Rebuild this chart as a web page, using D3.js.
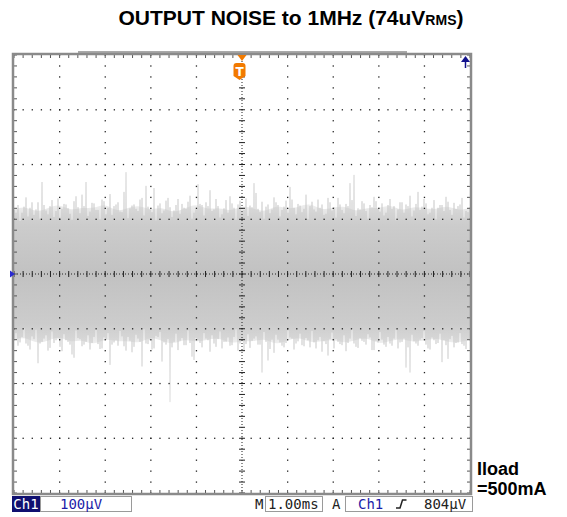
<!DOCTYPE html>
<html>
<head>
<meta charset="utf-8">
<script src="https://cdn.jsdelivr.net/npm/d3@7"></script>
<style>
  html, body { margin: 0; padding: 0; background: #fff; }
  svg { display: block; }
</style>
</head>
<body>
<svg id="chart" width="567" height="517"></svg>
<script>
// Scope screen: 10 x 8 divisions, 1.00ms/div and 100µV/div
const timeDivs = 10;
const voltDivs = 8;
const msPerDiv = 1.0;
const uvPerDiv = 100;

// Upper / lower peak of each screen column (µV)
const peakHi = [
  118, 126, 112, 140, 121, 108, 131, 168, 116, 124,
  104, 138, 119, 127, 110, 133, 122, 145, 168, 114,
  129, 117, 136, 109, 146, 124, 131, 113, 186, 120,
  127, 115, 139, 161, 118, 157, 125, 111, 134, 122,
  116, 137, 128, 119, 143, 112, 164, 126, 131, 153,
  118, 124, 109, 135, 142, 121, 127, 114, 138, 125,
  166, 119, 132, 123, 111, 140, 126, 117, 134, 159,
  121, 128, 113, 145, 124, 118, 136, 127, 110, 131,
  122, 139, 117, 128, 166, 181, 120, 133, 115, 126,
  141, 119, 129, 112, 137, 124, 118, 131, 127, 143,
  116, 150, 123, 129, 112, 135, 121, 126, 141, 117,
  130, 124, 139, 115, 122
];
const peakLo = [
  -122, -131, -115, -127, -138, -119, -163, -124, -112, -135,
  -126, -118, -141, -121, -129, -153, -117, -132, -124, -138,
  -115, -128, -136, -120, -166, -125, -131, -114, -140, -122,
  -133, -118, -169, -127, -121, -136, -115, -160, -129, -234,
  -124, -139, -117, -130, -126, -157, -121, -134, -118, -142,
  -127, -119, -136, -124, -131, -115, -140, -122, -128, -135,
  -118, -129, -180, -124, -137, -144, -120, -131, -126, -116,
  -138, -123, -130, -117, -134, -125, -121, -142, -128, -119,
  -136, -124, -130, -141, -118, -127, -135, -122, -129, -116,
  -139, -125, -120, -133, -127, -118, -136, -124, -171, -180,
  -123, -131, -117, -129, -138, -121, -126, -161, -130, -119,
  -134, -125, -128, -137, -122
];
// Peaks of the columns in between (µV)
const midHi = [
  112, 97, 123, 105, 131, 118, 101, 126, 109, 135,
  115, 103, 128, 120, 99, 142, 111, 124, 106, 130,
  117, 100, 133, 121, 108, 127, 114, 150, 102, 125,
  119, 136, 107, 123, 113, 98, 129, 116, 139, 104,
  126, 110, 121, 132, 101, 118, 128, 107, 124, 115,
  137, 103, 120, 112, 129, 99, 134, 117, 106, 122,
  148, 113, 101, 127, 118, 131, 105, 123, 112, 136,
  109, 125, 119, 100, 132, 114, 121, 108, 139, 116,
  103, 127, 111, 124, 135, 106, 118, 129, 101, 122,
  133, 114, 107, 126, 119, 98, 131, 112, 124, 105,
  128, 117, 137, 109, 121, 100, 126, 115, 132, 108,
  119, 127, 103, 113
];
const midLo = [
  -108, -125, -99, -131, -114, -102, -127, -118, -140, -105,
  -121, -133, -110, -124, -147, -103, -119, -129, -112, -126,
  -100, -137, -116, -108, -129, -121, -104, -132, -115, -143,
  -111, -124, -101, -128, -138, -113, -106, -125, -119, -134,
  -109, -122, -130, -103, -151, -117, -126, -108, -121, -112,
  -133, -105, -124, -116, -130, -101, -127, -139, -110, -122,
  -114, -129, -106, -158, -120, -111, -125, -134, -103, -118,
  -127, -109, -132, -121, -104, -136, -115, -123, -149, -107,
  -119, -128, -112, -126, -101, -133, -117, -124, -110, -139,
  -122, -106, -129, -115, -131, -102, -125, -118, -134, -111,
  -127, -120, -104, -136, -116, -128, -109, -121, -155, -113,
  -126, -108, -131, -119
];
// Envelope of the dense part of the trace (µV), every 0.25ms
const coreHi = [
  118, 124, 112, 121, 128, 115, 122, 119, 130, 113, 121, 126, 116, 123,
  111, 120, 129, 117, 122, 114, 125, 120, 112, 127, 118, 123, 130, 116,
  121, 125, 113, 122, 119, 128, 114, 124, 120, 117, 126, 115, 121
];
const coreLo = [
  -120, -115, -128, -122, -113, -126, -119, -131, -117, -124, -122, -127, -114, -123,
  -129, -118, -125, -120, -116, -128, -122, -124, -117, -130, -121, -115, -126, -123,
  -119, -127, -120, -116, -129, -122, -118, -125, -121, -117, -124, -126, -120
];

const titleMain = "OUTPUT NOISE to 1MHz (74uV";
const titleSub = "RMS";
const loadLabels = ["Iload", "=500mA"];
const chName = "Ch1";
const chScale = "100µV";
const timeBase = "1.00ms";
const trigSource = "Ch1";
const trigLevel = "804µV";

const svg = d3.select("#chart");
const plotL = 14, plotR = 470, plotT = 55, plotB = 493;

const x = d3.scaleLinear()
    .domain([0, timeDivs * msPerDiv])
    .range([plotL, plotR]);
const y = d3.scaleLinear()
    .domain([-voltDivs / 2 * uvPerDiv, voltDivs / 2 * uvPerDiv])
    .range([plotB, plotT]);

const span = timeDivs * msPerDiv;
const colT = i => i * span / (peakHi.length - 1);
const midT = i => (i + 0.5) * span / (peakHi.length - 1);
const coreT = i => i * span / (coreHi.length - 1);

// Title
const title = svg.append("text")
    .attr("x", 291)
    .attr("y", 25)
    .attr("text-anchor", "middle")
    .style("font-family", "'Liberation Sans', Arial, sans-serif")
    .style("font-weight", "bold")
    .style("font-size", "21px")
    .attr("fill", "#000");
title.append("tspan").text(titleMain);
title.append("tspan").style("font-size", "14px").text(titleSub);
title.append("tspan").text(")");

// Trace shading: darker near 0, fading out towards the spikes
const defs = svg.append("defs");
function vGrad(id, extent, stops) {
    const g = defs.append("linearGradient")
        .attr("id", id)
        .attr("gradientUnits", "userSpaceOnUse")
        .attr("x1", 0).attr("x2", 0)
        .attr("y1", y(extent)).attr("y2", y(-extent));
    stops.forEach(([o, c]) => g.append("stop").attr("offset", o).attr("stop-color", c));
}
vGrad("lineGrad", 240, [[0, "#dcdcdc"], [0.25, "#c4c4c4"], [0.5, "#b6b6b6"], [0.75, "#c4c4c4"], [1, "#dcdcdc"]]);
vGrad("coreGrad", 130, [[0, "#f0f0f0"], [0.15, "#d8d8d8"], [0.5, "#cdcdcd"], [0.85, "#d8d8d8"], [1, "#f0f0f0"]]);

const trace = svg.append("g");

trace.append("path")
    .datum(coreHi.map((v, i) => ({ t: coreT(i), hi: v, lo: coreLo[i] })))
    .attr("fill", "url(#coreGrad)")
    .attr("d", d3.area()
        .x(d => x(d.t))
        .y0(d => y(d.lo))
        .y1(d => y(d.hi))
        .curve(d3.curveBasis));

function drawColumns(his, los, tOf) {
    trace.append("g")
        .selectAll("line")
        .data(his.map((v, i) => ({ t: tOf(i), hi: v, lo: los[i] })))
        .join("line")
        .attr("x1", d => x(d.t))
        .attr("x2", d => x(d.t))
        .attr("y1", d => y(d.hi))
        .attr("y2", d => y(d.lo))
        .attr("stroke", "url(#lineGrad)")
        .attr("stroke-width", 1);
}
drawColumns(peakHi, peakLo, colT);
drawColumns(midHi, midLo, midT);

// Graticule dots
const grid = svg.append("g").attr("fill", "#222");
const minorT = d3.range(0, span + 0.001, msPerDiv / 5);
const minorV = d3.range(-400, 400.001, uvPerDiv / 5);

d3.range(1, timeDivs).filter(k => k !== timeDivs / 2).forEach(k => {
    grid.selectAll(null)
        .data(minorV)
        .join("rect")
        .attr("x", x(k * msPerDiv) - 0.6)
        .attr("y", d => y(d) - 0.6)
        .attr("width", 1.3)
        .attr("height", 1.3);
});
d3.range(-3, 4).filter(k => k !== 0).forEach(k => {
    grid.selectAll(null)
        .data(minorT)
        .join("rect")
        .attr("x", d => x(d) - 0.6)
        .attr("y", y(k * uvPerDiv) - 0.6)
        .attr("width", 1.3)
        .attr("height", 1.3);
});

// Centre cross with minor ticks
const cx = x(span / 2), cy = y(0);
grid.append("line")
    .attr("x1", cx).attr("x2", cx).attr("y1", plotT).attr("y2", plotB)
    .attr("stroke", "#222").attr("stroke-width", 1).attr("stroke-dasharray", "1,2");
grid.append("line")
    .attr("x1", plotL).attr("x2", plotR).attr("y1", cy).attr("y2", cy)
    .attr("stroke", "#222").attr("stroke-width", 1).attr("stroke-dasharray", "1,2");
grid.selectAll(null)
    .data(minorV)
    .join("line")
    .attr("x1", cx - 3).attr("x2", cx + 3)
    .attr("y1", d => y(d)).attr("y2", d => y(d))
    .attr("stroke", "#222").attr("stroke-width", 1);
grid.selectAll(null)
    .data(minorT)
    .join("line")
    .attr("x1", d => x(d)).attr("x2", d => x(d))
    .attr("y1", cy - 3).attr("y2", cy + 3)
    .attr("stroke", "#222").attr("stroke-width", 1);

// Frame ticks on the inside edges
const edge = svg.append("g").attr("stroke", "#555").attr("stroke-width", 1);
edge.selectAll(null).data(minorT).join("line")
    .attr("x1", d => x(d)).attr("x2", d => x(d))
    .attr("y1", plotT).attr("y2", plotT + 3);
edge.selectAll(null).data(minorT).join("line")
    .attr("x1", d => x(d)).attr("x2", d => x(d))
    .attr("y1", plotB).attr("y2", plotB - 3);
edge.selectAll(null).data(minorV).join("line")
    .attr("x1", plotL).attr("x2", plotL + 3)
    .attr("y1", d => y(d)).attr("y2", d => y(d));
edge.selectAll(null).data(minorV).join("line")
    .attr("x1", plotR).attr("x2", plotR - 3)
    .attr("y1", d => y(d)).attr("y2", d => y(d));

// Frame and record bar
svg.append("rect")
    .attr("x", 78).attr("y", 51)
    .attr("width", 329).attr("height", 2.5)
    .attr("fill", "#a9a9a9");
svg.append("rect")
    .attr("x", plotL - 1).attr("y", plotT - 1)
    .attr("width", plotR - plotL + 2).attr("height", plotB - plotT + 2)
    .attr("fill", "none")
    .attr("stroke", "#8a8a8a")
    .attr("stroke-width", 2.5);

// Trigger position marker
const orange = "#f27a00";
svg.append("path")
    .attr("d", `M${cx - 4.5},${plotT} L${cx + 4.5},${plotT} L${cx},${plotT + 6} Z`)
    .attr("fill", orange);
const tx = cx - 2.5;
svg.append("path")
    .attr("d", `M${tx - 6},66 Q${tx - 6},63 ${tx - 3},63 L${tx + 3},63 Q${tx + 6},63 ${tx + 6},66
               L${tx + 6},76 L${tx},80 L${tx - 6},76 Z`)
    .attr("fill", orange);
svg.append("text")
    .attr("x", tx).attr("y", 76)
    .attr("text-anchor", "middle")
    .style("font-family", "'DejaVu Sans', sans-serif")
    .style("font-weight", "bold")
    .style("font-size", "12px")
    .attr("fill", "#fff")
    .text("T");

// Trigger level arrow (top right) and ground marker (left)
const navy = "#12128c";
svg.append("path")
    .attr("d", `M${plotR - 9},62 L${plotR},62 L${plotR - 4.5},56 Z`)
    .attr("fill", navy);
svg.append("line")
    .attr("x1", plotR - 4.5).attr("x2", plotR - 4.5)
    .attr("y1", 60).attr("y2", 68)
    .attr("stroke", navy).attr("stroke-width", 1.5);
svg.append("path")
    .attr("d", `M10,${cy - 3.5} L15,${cy} L10,${cy + 3.5} Z`)
    .attr("fill", "#2a2ad0");

// Status line
const status = svg.append("g")
    .style("font-family", "'DejaVu Sans Mono', monospace")
    .style("font-size", "14px");
const rowY = 496, rowH = 16;
const baseY = rowY + 12.5;

status.append("rect")
    .attr("x", 12).attr("y", rowY).attr("width", 28).attr("height", rowH)
    .attr("fill", "#101070");
status.append("text")
    .attr("x", 26).attr("y", baseY).attr("text-anchor", "middle")
    .attr("fill", "#fff").text(chName);
status.append("rect")
    .attr("x", 40.5).attr("y", rowY + 0.5).attr("width", 91).attr("height", rowH - 1)
    .attr("fill", "#fff").attr("stroke", "#9a9a9a");
status.append("text")
    .attr("x", 60).attr("y", baseY)
    .attr("fill", "#1c1ca8").text(chScale);

status.append("text")
    .attr("x", 255).attr("y", baseY)
    .attr("fill", "#222").text("M");
status.append("rect")
    .attr("x", 265.5).attr("y", rowY + 0.5).attr("width", 57).attr("height", rowH - 1)
    .attr("fill", "#fff").attr("stroke", "#9a9a9a");
status.append("text")
    .attr("x", 268).attr("y", baseY)
    .attr("fill", "#222").text(timeBase);

status.append("text")
    .attr("x", 332).attr("y", baseY)
    .attr("fill", "#222").text("A");
status.append("rect")
    .attr("x", 345.5).attr("y", rowY + 0.5).attr("width", 127).attr("height", rowH - 1)
    .attr("fill", "#fff").attr("stroke", "#9a9a9a");
status.append("text")
    .attr("x", 358).attr("y", baseY)
    .attr("fill", "#1c1ca8").text(trigSource);
status.append("path")
    .attr("d", `M396,${rowY + 12} L400,${rowY + 12} L402.5,${rowY + 4} L406.5,${rowY + 4}`)
    .attr("fill", "none").attr("stroke", "#222").attr("stroke-width", 1.5);
status.append("text")
    .attr("x", 424).attr("y", baseY)
    .attr("fill", "#222").text(trigLevel);

// Load note at the right
svg.append("g")
    .style("font-family", "'Liberation Sans', Arial, sans-serif")
    .style("font-weight", "bold")
    .style("font-size", "18px")
    .selectAll("text")
    .data(loadLabels)
    .join("text")
    .attr("x", 477)
    .attr("y", (d, i) => 475 + i * 20)
    .text(d => d);
</script>
</body>
</html>
